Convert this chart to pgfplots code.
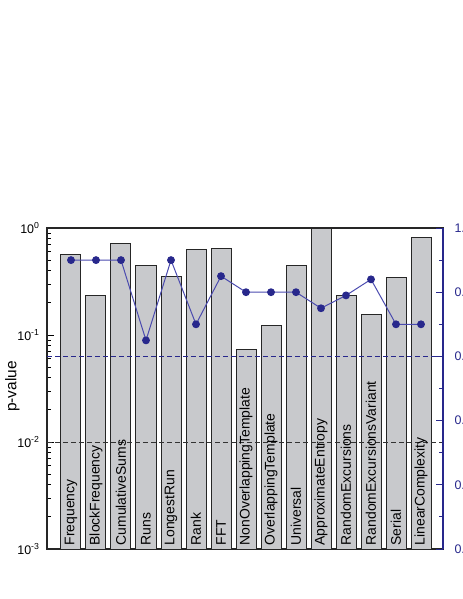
\documentclass[border=0pt]{standalone}
\usepackage{pgfplots}
\pgfplotsset{compat=1.18}
\usepackage{fontspec}
\setmainfont{Liberation Sans}
\definecolor{barfill}{RGB}{200,201,204}
\definecolor{navy}{RGB}{40,40,140}
\definecolor{lineblue}{RGB}{75,75,175}

\begin{document}
\begin{tikzpicture}

% left axis: p-values as bars (log)
\begin{axis}[
  at={(0,0)}, anchor=south west,
  scale only axis, width=396bp, height=321bp,
  xmin=0.04, xmax=15.88,
  ymode=log, ymin=1e-3, ymax=1, log origin=infty,
  xtick=\empty,
  ytick={1e-3,1e-2,1e-1,1},
  yticklabels={10\textsuperscript{-3},10\textsuperscript{-2},10\textsuperscript{-1},10\textsuperscript{0}},
  ytick pos=left, tick align=inside,
  major tick length=7bp, minor tick length=4bp,
  every tick/.style={black, line width=0.8bp},
  axis line style={black!85, line width=1.2bp},
  yticklabel style={font=\fontsize{12.5}{12.5}\selectfont, xshift=-4bp},
  clip=false,
]
\addplot[ybar, bar width=20bp, fill=barfill, draw=black!85, line width=1bp] coordinates {
  (1,0.571) (2,0.235) (3,0.713) (4,0.451) (5,0.356)
  (6,0.623) (7,0.650) (8,0.0735) (9,0.123) (10,0.444)
  (11,0.995) (12,0.235) (13,0.156) (14,0.348) (15,0.807)
};
\draw[black!80, line width=1bp, dash pattern=on 5bp off 3bp]
  (axis cs:0.04,1e-2) -- (axis cs:15.88,1e-2);

\foreach \i/\lab in {1/Frequency, 2/BlockFrequency, 3/CumulativeSums, 4/Runs,
  5/LongestRun, 6/Rank, 7/FFT, 8/NonOverlappingTemplate, 9/OverlappingTemplate,
  10/Universal, 11/ApproximateEntropy, 12/RandomExcursions,
  13/RandomExcursionsVariant, 14/Serial, 15/LinearComplexity}{
  \edef\temp{\noexpand\node[rotate=90, anchor=west, inner sep=0pt,
    font=\noexpand\fontsize{14}{14}\noexpand\selectfont]
    at ([yshift=3.5bp]axis cs:\i,1e-3) {\lab};}
  \temp
}

% y label
\node[rotate=90, font=\fontsize{15.5}{15.5}\selectfont]
  at ([xshift=-34.5bp, yshift=2bp]rel axis cs:0,0.5) {p-value};
\end{axis}

% right axis: proportion line
\begin{axis}[
  at={(0,0)}, anchor=south west,
  scale only axis, width=396bp, height=321bp,
  xmin=0.04, xmax=15.88,
  ymin=0, ymax=1,
  axis x line=none, axis y line*=right,
  ytick={0,0.2,0.4,0.6,0.8,1},
  yticklabels={0.0,0.2,0.4,0.6,0.8,1.0},
  minor y tick num=1,
  tick align=inside,
  major tick length=7bp, minor tick length=4bp,
  every tick/.style={navy, line width=0.8bp},
  y axis line style={navy, line width=1.2bp, -},
  yticklabel style={text=navy, font=\fontsize{12.5}{12.5}\selectfont, xshift=8bp},
  clip=false,
]
\draw[navy, line width=0.9bp, dash pattern=on 5bp off 3bp]
  (rel axis cs:0,0.6) -- (rel axis cs:1,0.6);
\addplot[lineblue, line width=1bp, mark=*, mark size=3.4bp,
  mark options={fill=navy, draw=navy}] coordinates {
  (1,0.90) (2,0.90) (3,0.90) (4,0.65) (5,0.90)
  (6,0.70) (7,0.85) (8,0.80) (9,0.80) (10,0.80)
  (11,0.75) (12,0.79) (13,0.84) (14,0.70) (15,0.70)
};
\end{axis}

\pgfresetboundingbox
\useasboundingbox (-47bp,-50bp) rectangle (416bp,549bp);
\end{tikzpicture}
\end{document}
